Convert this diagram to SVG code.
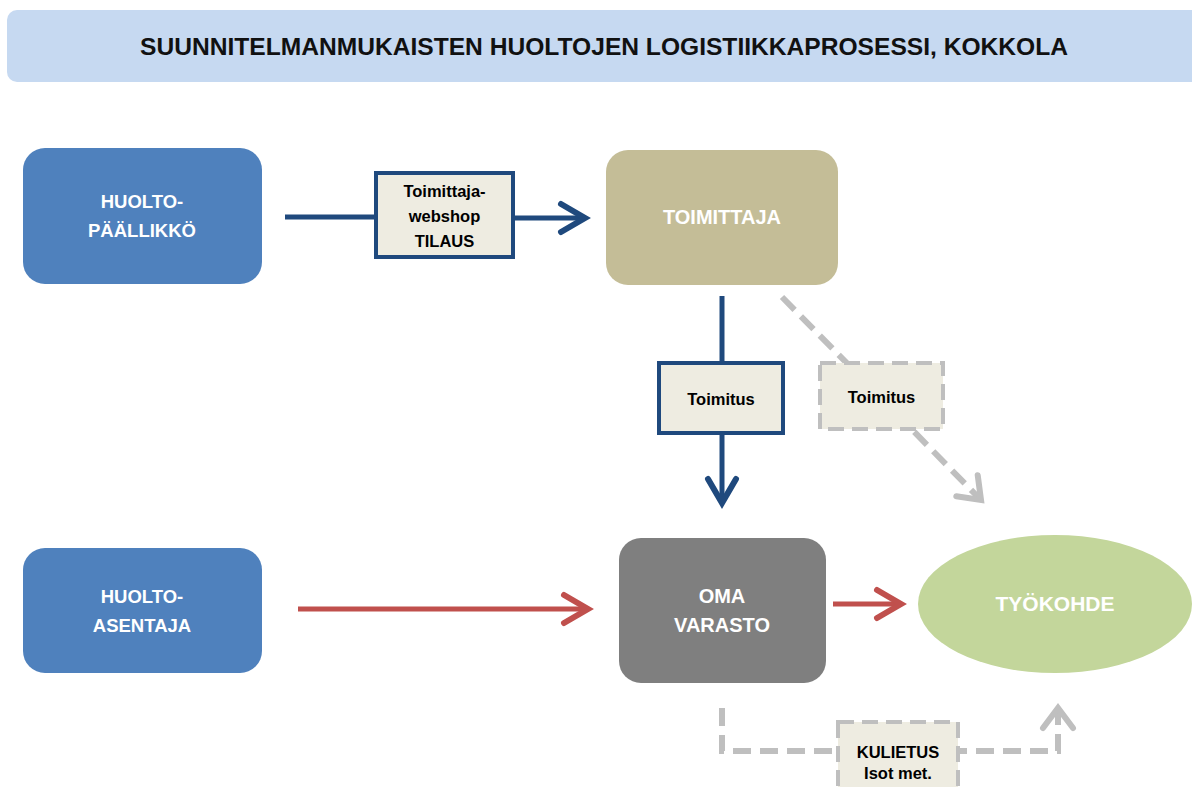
<svg xmlns="http://www.w3.org/2000/svg" width="1192" height="787" viewBox="0 0 1192 787">
<style>
  .node-text { font-family: "Liberation Sans", Arial, sans-serif; font-weight: bold; fill: #ffffff; text-anchor: middle; }
  .label-text { font-family: "Liberation Sans", Arial, sans-serif; font-weight: bold; font-size: 16.5px; fill: #000000; text-anchor: middle; }
  .title-text { font-family: "Liberation Sans", Arial, sans-serif; font-weight: bold; font-size: 23px; fill: #111111; text-anchor: middle; }
  .blue-line { stroke: #1f497d; stroke-width: 5; fill: none; }
  .red-line { stroke: #c0504d; stroke-width: 5; fill: none; }
  .gray-line { stroke: #bfbfbf; stroke-width: 6; fill: none; stroke-dasharray: 18 9; }
  .label-box { fill: #eeece1; stroke: #1f497d; stroke-width: 4; }
  .label-box-dash { fill: #eeece1; stroke: #bfbfbf; stroke-width: 4; stroke-dasharray: 16 8; }
</style>
<defs>
  <marker id="arrow-blue" markerUnits="userSpaceOnUse" viewBox="-32 -20 38 40" markerWidth="38" markerHeight="40" refX="0" refY="0" orient="auto">
    <path d="M -24 -14 L 0 0 L -24 14" fill="none" stroke="#1f497d" stroke-width="6" stroke-linecap="round"/>
  </marker>
  <marker id="arrow-red" markerUnits="userSpaceOnUse" viewBox="-32 -20 38 40" markerWidth="38" markerHeight="40" refX="0" refY="0" orient="auto">
    <path d="M -24 -14 L 0 0 L -24 14" fill="none" stroke="#c0504d" stroke-width="6" stroke-linecap="round"/>
  </marker>
  <marker id="arrow-gray" markerUnits="userSpaceOnUse" viewBox="-32 -20 38 40" markerWidth="38" markerHeight="40" refX="0" refY="0" orient="auto">
    <path d="M -20 -15 L 0 0 L -20 15" fill="none" stroke="#bfbfbf" stroke-width="6" stroke-linecap="round"/>
  </marker>
</defs>

<rect width="1192" height="787" fill="#ffffff"/>

<g id="title">
  <rect x="7" y="10" width="1200" height="72" rx="10" fill="#c6d9f1"/>
  <text class="title-text" x="604" y="55" textLength="928" lengthAdjust="spacingAndGlyphs">SUUNNITELMANMUKAISTEN HUOLTOJEN LOGISTIIKKAPROSESSI, KOKKOLA</text>
</g>

<g id="connectors">
  <line class="blue-line" x1="285" y1="217" x2="376" y2="217"/>
  <line class="blue-line" x1="513" y1="218" x2="585" y2="218" marker-end="url(#arrow-blue)"/>
  <line class="blue-line" x1="722" y1="296" x2="722" y2="363"/>
  <line class="blue-line" x1="722" y1="433" x2="722" y2="503" marker-end="url(#arrow-blue)"/>
  <line class="gray-line" x1="782" y1="297" x2="981" y2="500" marker-end="url(#arrow-gray)"/>
  <line class="red-line" x1="298" y1="609" x2="588" y2="609" marker-end="url(#arrow-red)"/>
  <line class="red-line" x1="833" y1="604" x2="901" y2="604" marker-end="url(#arrow-red)"/>
  <path class="gray-line" d="M 722 708 V 751 H 1058 V 708" marker-end="url(#arrow-gray)"/>
</g>

<g id="label-tilaus">
  <rect class="label-box" x="376" y="173" width="137" height="84"/>
  <text class="label-text" x="444.5" y="197">Toimittaja-</text>
  <text class="label-text" x="444.5" y="222">webshop</text>
  <text class="label-text" x="444.5" y="247">TILAUS</text>
</g>

<g id="label-toimitus-1">
  <rect class="label-box" x="659" y="363" width="124" height="70"/>
  <text class="label-text" x="721" y="405">Toimitus</text>
</g>

<g id="label-toimitus-2">
  <rect class="label-box-dash" x="820" y="363" width="123" height="66"/>
  <text class="label-text" x="881.5" y="403">Toimitus</text>
</g>

<g id="label-kuljetus">
  <rect class="label-box-dash" x="838" y="722" width="120" height="80"/>
  <text class="label-text" x="898" y="758">KULIETUS</text>
  <text class="label-text" x="898" y="779">Isot met.</text>
</g>

<g id="node-huoltopaallikko">
  <rect x="23" y="148" width="239" height="136" rx="22" fill="#4f81bd"/>
  <text class="node-text" font-size="18.5" x="142" y="208">HUOLTO-</text>
  <text class="node-text" font-size="18.5" x="142" y="237">PÄÄLLIKKÖ</text>
</g>

<g id="node-toimittaja">
  <rect x="606" y="150" width="232" height="135" rx="22" fill="#c4bd97"/>
  <text class="node-text" font-size="20" x="722" y="224">TOIMITTAJA</text>
</g>

<g id="node-huoltoasentaja">
  <rect x="23" y="548" width="239" height="125" rx="22" fill="#4f81bd"/>
  <text class="node-text" font-size="18.5" x="142" y="603">HUOLTO-</text>
  <text class="node-text" font-size="18.5" x="142" y="632">ASENTAJA</text>
</g>

<g id="node-omavarasto">
  <rect x="619" y="538" width="207" height="145" rx="22" fill="#7f7f7f"/>
  <text class="node-text" font-size="20" x="722" y="603">OMA</text>
  <text class="node-text" font-size="20" x="722" y="632">VARASTO</text>
</g>

<g id="node-tyokohde">
  <ellipse cx="1055" cy="604" rx="137" ry="69" fill="#c3d69b"/>
  <text class="node-text" font-size="21" x="1055" y="611">TYÖKOHDE</text>
</g>
</svg>
